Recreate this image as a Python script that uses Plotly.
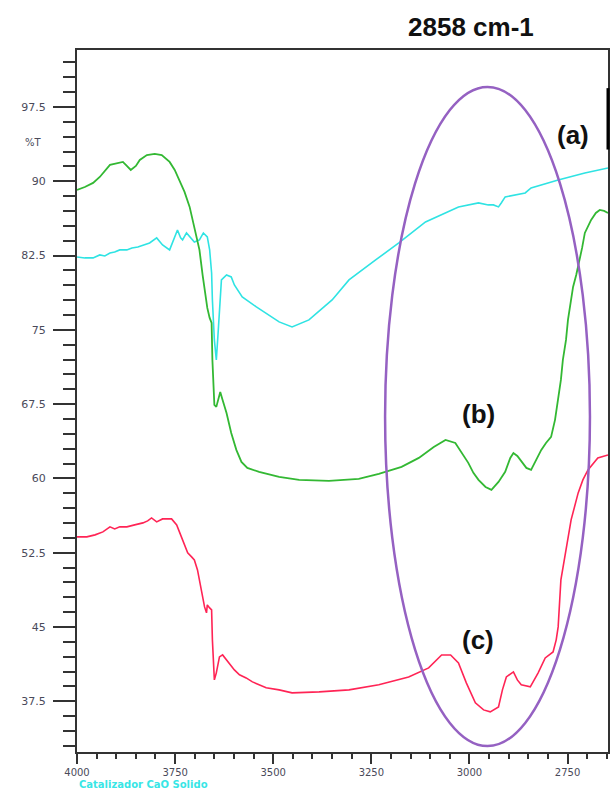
import plotly.graph_objects as go

# ---------------- data (wavenumber cm-1, %T) ----------------
wn_a = [4000, 3980, 3959, 3942, 3929, 3916, 3904, 3891, 3873, 3860, 3845, 3832, 3815, 3797,
        3782, 3764, 3754, 3744, 3736, 3731, 3721, 3713, 3701, 3688, 3678, 3668, 3662, 3657,
        3655, 3650, 3645, 3640, 3637, 3632, 3619, 3607, 3599, 3579, 3543, 3503, 3485, 3452,
        3409, 3350, 3307, 3239, 3180, 3112, 3028, 2977, 2952, 2939, 2926, 2919, 2909, 2858,
        2843, 2774, 2706, 2647]
t_a = [82.36, 82.26, 82.26, 82.56, 82.46, 82.76, 82.86, 83.07, 83.07, 83.27, 83.37, 83.57,
       83.77, 84.28, 83.57, 83.07, 84.08, 85.08, 84.28, 84.08, 84.78, 84.38, 83.87, 84.08,
       84.78, 84.38, 83.07, 80.74, 78.02, 73.98, 71.96, 74.99, 77.31, 80.04, 80.54, 80.34,
       79.53, 78.32, 77.31, 76.30, 75.80, 75.29, 76.00, 78.02, 80.04, 82.06, 83.77, 85.89,
       87.41, 87.81, 87.61, 87.61, 87.41, 87.81, 88.42, 88.82, 89.32, 90.13, 90.84, 91.34]

wn_b = [4000, 3980, 3959, 3942, 3916, 3898, 3883, 3873, 3863, 3850, 3840, 3822, 3802, 3784,
        3764, 3751, 3739, 3726, 3713, 3703, 3695, 3688, 3680, 3673, 3668, 3662, 3657, 3655,
        3652, 3650, 3645, 3640, 3635, 3629, 3619, 3607, 3594, 3581, 3566, 3536, 3485, 3434,
        3358, 3282, 3231, 3173, 3129, 3091, 3061, 3036, 3015, 3003, 2990, 2977, 2959, 2944,
        2926, 2909, 2896, 2888, 2878, 2868, 2855, 2843, 2830, 2817, 2805, 2792, 2782, 2774,
        2767, 2762, 2754, 2749, 2741, 2736, 2728, 2723, 2713, 2706, 2698, 2690, 2678, 2668,
        2657, 2647]
t_b = [89.12, 89.42, 89.83, 90.43, 91.65, 91.85, 91.95, 91.54, 91.14, 91.54, 92.15, 92.65,
       92.76, 92.65, 91.95, 91.14, 90.13, 88.92, 87.41, 85.59, 84.08, 83.07, 80.54, 78.32,
       77.21, 76.20, 75.70, 71.96, 68.93, 67.42, 67.22, 67.92, 68.73, 67.92, 66.61, 64.59,
       62.88, 61.67, 61.06, 60.66, 60.15, 59.85, 59.75, 59.95, 60.46, 61.16, 62.07, 63.18,
       63.89, 63.58, 62.37, 61.57, 60.56, 59.85, 59.14, 58.84, 59.65, 60.66, 62.07, 62.57,
       62.27, 61.77, 61.06, 60.86, 61.87, 62.88, 63.58, 64.19, 65.91, 67.92, 69.94, 71.96,
       73.98, 76.00, 78.02, 79.33, 80.54, 81.35, 83.27, 84.78, 85.49, 86.09, 86.80, 87.10,
       87.00, 86.80]

wn_c = [4000, 3975, 3954, 3934, 3916, 3904, 3891, 3873, 3853, 3832, 3820, 3810, 3797, 3782,
        3759, 3746, 3739, 3731, 3718, 3708, 3701, 3693, 3688, 3680, 3675, 3670, 3668, 3662,
        3657, 3655, 3652, 3650, 3645, 3642, 3637, 3629, 3619, 3612, 3599, 3586, 3569, 3553,
        3536, 3518, 3485, 3452, 3383, 3307, 3231, 3155, 3104, 3071, 3048, 3028, 3008, 2985,
        2964, 2947, 2926, 2916, 2906, 2888, 2878, 2868, 2845, 2825, 2807, 2787, 2779, 2774,
        2767, 2754, 2741, 2723, 2711, 2698, 2673, 2647]
t_c = [54.10, 54.10, 54.30, 54.60, 55.11, 54.90, 55.11, 55.11, 55.31, 55.51, 55.71, 56.01,
       55.61, 55.91, 55.91, 55.31, 54.60, 53.79, 52.48, 52.08, 51.77, 50.76, 49.76, 48.04,
       47.03, 46.43, 47.23, 46.93, 46.73, 43.70, 41.18, 39.66, 40.37, 40.87, 41.98, 42.18,
       41.68, 41.38, 40.67, 40.17, 39.86, 39.46, 39.16, 38.86, 38.65, 38.35, 38.45, 38.65,
       39.16, 39.96, 40.87, 42.18, 42.18, 41.38, 39.36, 37.34, 36.63, 36.43, 36.93, 38.65,
       39.96, 40.47, 39.66, 39.16, 38.96, 40.37, 41.88, 42.48, 43.70, 45.01, 49.76, 52.78,
       55.81, 58.54, 59.85, 60.86, 62.07, 62.37]

x_ticks = [4000, 3750, 3500, 3250, 3000, 2750]
y_ticks = [37.5, 45, 52.5, 60, 67.5, 75, 82.5, 90, 97.5]
y_tick_text = ["37.5", "45", "52.5", "60", "67.5", "75", "82.5", "90", "97.5"]

ellipse_x = [3215, 2693]
ellipse_y = [32.98, 99.52]

title_text = "2858 cm-1"
labels = ["(a)", "(b)", "(c)"]
label_x = [2736, 2977, 2977]
label_y = [94.67, 66.51, 43.70]

# ---------------- figure ----------------
fig = go.Figure()
fig.add_trace(go.Scatter(x=wn_a, y=t_a, mode="lines",
                         line=dict(color="#2fe3e3", width=1.6), showlegend=False))
fig.add_trace(go.Scatter(x=wn_b, y=t_b, mode="lines",
                         line=dict(color="#33b833", width=1.8), showlegend=False))
fig.add_trace(go.Scatter(x=wn_c, y=t_c, mode="lines",
                         line=dict(color="#ff2455", width=1.6), showlegend=False))

fig.add_shape(type="circle", xref="x", yref="y",
              x0=ellipse_x[0], x1=ellipse_x[1], y0=ellipse_y[0], y1=ellipse_y[1],
              line=dict(color="#9561c2", width=2.5))

# thicker segment at top of right frame
fig.add_shape(type="line", xref="paper", yref="y", x0=1, x1=1, y0=99.4, y1=93.2,
              line=dict(color="#000000", width=3))

x_tick_font = dict(family="DejaVu Sans", size=10, color="#4a4a5a")
y_tick_font = dict(family="DejaVu Sans", size=11, color="#4a4a5a")

fig.update_layout(
    width=613, height=790,
    margin=dict(l=77, r=3, t=50, b=38),
    paper_bgcolor="white", plot_bgcolor="white",
    xaxis=dict(range=[4000, 2647], tickvals=x_ticks, ticktext=[str(v) for v in x_ticks],
               ticks="outside", ticklen=10, tickwidth=2, tickcolor="#333333",
               showline=True, linecolor="#333333", linewidth=2, mirror=True,
               showgrid=False, zeroline=False, tickfont=x_tick_font, ticklabelstandoff=0,
               minor=dict(dtick=50, tick0=0, ticks="outside", ticklen=5, tickwidth=2,
                          tickcolor="#333333", showgrid=False)),
    yaxis=dict(range=[32.38, 103.25], tickvals=y_ticks, ticktext=y_tick_text,
               ticks="outside", ticklen=22, tickwidth=2, tickcolor="#333333",
               showline=True, linecolor="#333333", linewidth=2, mirror=True,
               showgrid=False, zeroline=False, tickfont=y_tick_font, ticklabelstandoff=5,
               minor=dict(dtick=1.5, tick0=0, ticks="outside", ticklen=12, tickwidth=2,
                          tickcolor="#333333", showgrid=False)),
)

fig.add_annotation(x=2995, y=1.033, xref="x", yref="paper", text=title_text, showarrow=False,
                   font=dict(family="Liberation Sans", size=26, color="#111111", weight="bold"),
                   xanchor="center", yanchor="middle")

for t, lx, ly in zip(labels, label_x, label_y):
    fig.add_annotation(x=lx, y=ly, xref="x", yref="y", text=t, showarrow=False,
                       font=dict(family="Liberation Sans", size=26, color="#111111", weight="bold"),
                       xanchor="center", yanchor="middle")

fig.add_annotation(x=-0.082, y=93.87, xref="paper", yref="y", text="%T", showarrow=False,
                   font=dict(family="DejaVu Sans", size=10, color="#4a4a5a"),
                   xanchor="center", yanchor="middle")

fig.add_annotation(x=0, y=-0.054, xref="paper", yref="paper", text="Catalizador CaO Solido",
                   showarrow=False,
                   font=dict(family="DejaVu Sans", size=10, color="#38e6e6", weight="bold"),
                   xanchor="left", yanchor="bottom", yshift=-2)

fig.write_html("out.html")
